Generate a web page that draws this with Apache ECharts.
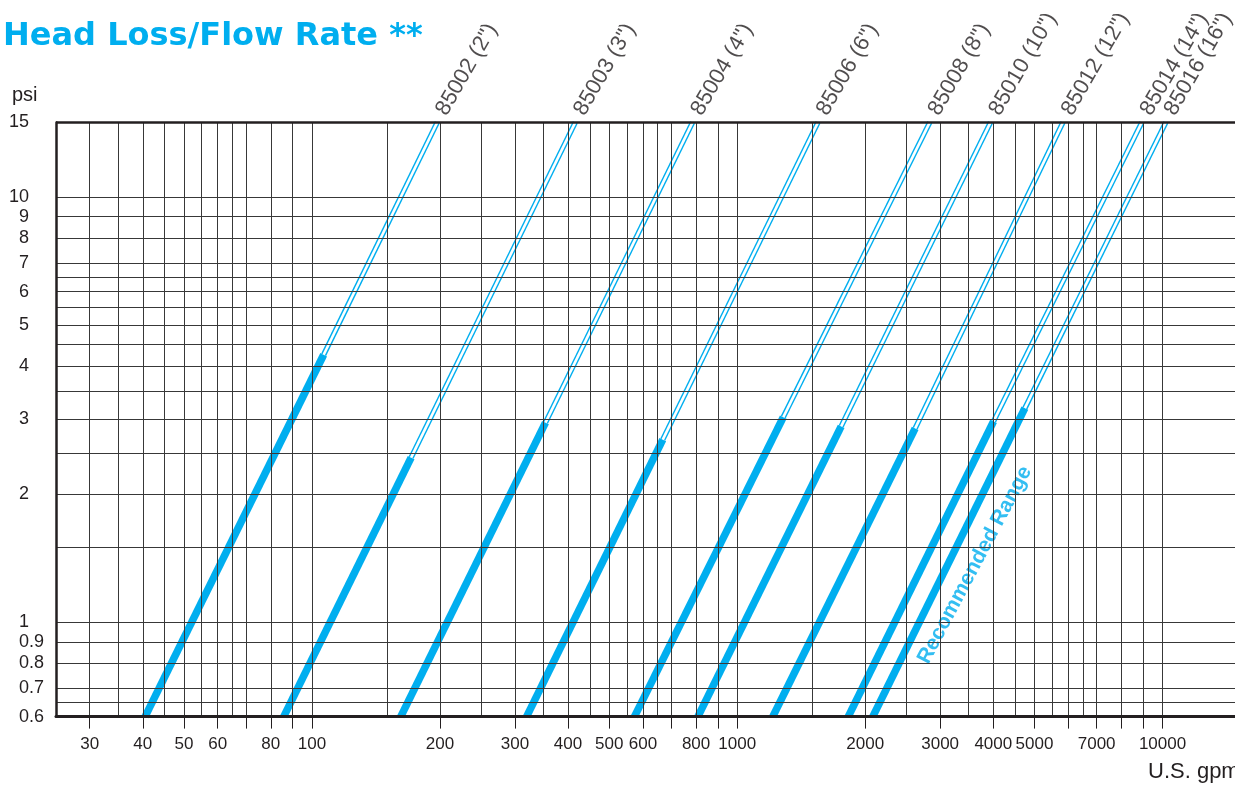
<!DOCTYPE html>
<html><head><meta charset="utf-8">
<script src="https://cdn.jsdelivr.net/npm/echarts@6/dist/echarts.min.js"></script>
<style>html,body{margin:0;padding:0;background:#fff}#c{width:1235px;height:787px}</style>
</head><body><div id="c"></div>
<script>
// ---- data (US gpm vs psi, log-log) ----
const models     = ['85002 (2")','85003 (3")','85004 (4")','85006 (6")','85008 (8")','85010 (10")','85012 (12")','85014 (14")','85016 (16")'];
const flowAtMin  = [40.5, 85.8, 161.7, 319.6, 573.1, 808, 1212, 1824, 2083];   // gpm at 0.6 psi
const flowAtMax  = [197, 416, 785, 1548, 2836, 3940, 5832, 8940, 10180];     // gpm at 15 psi
const recFlow    = [106.5, 171, 354, 668, 1283, 1755, 2620, 4005, 4746];     // end of recommended range (gpm)
const recPsi     = [4.26, 2.44, 2.95, 2.69, 3.04, 2.89, 2.86, 2.97, 3.19];   // end of recommended range (psi)
const psiMin = 0.6, psiMax = 15;
const flowMin = 25, flowMax = 15000;
const xGrid   = [30,35,40,45,50,55,60,65,70,80,90,100,150,200,250,300,350,400,450,500,550,600,650,700,800,900,1000,1500,2000,2500,3000,3500,4000,4500,5000,5500,6000,6500,7000,8000,9000,10000];
const yGrid   = [0.65,0.7,0.8,0.9,1,1.5,2,2.5,3,3.5,4,4.5,5,5.5,6,6.5,7,8,9,10];
const xTicks  = [30,40,50,60,70,80,90,100,200,300,400,500,600,700,800,900,1000,2000,3000,4000,5000,6000,7000,8000,9000,10000];
const xLabels = [30,40,50,60,80,100,200,300,400,500,600,800,1000,2000,3000,4000,5000,7000,10000];
const yLabels = [0.6,0.7,0.8,0.9,1,2,3,4,5,6,7,8,9,10,15];
const yFracLabels = [0.6,0.7,0.8,0.9];
const recText = {label: 'Recommended Range', flow: 3620, psi: 1.364};

const BLUE = '#00aeef', INK = '#231f20';
const FONT = '"Liberation Sans", Arial, sans-serif';
const tickSize = 18;
const xTickSize = 17;

const chart = echarts.init(document.getElementById('c'), null, {renderer: 'canvas'});

const series = [];
series.push({
  type: 'line', data: [], z: 1, silent: true, clip: false,
  markLine: {
    silent: true, symbol: ['none','none'], animation: false,
    label: {show: false},
    lineStyle: {color: '#383838', width: 1, type: 'solid'},
    emphasis: {disabled: true},
    data: xGrid.map(v => ({xAxis: v}))
      .concat(yGrid.map(v => ({yAxis: v})))
      .concat([{yAxis: psiMax, lineStyle: {color: INK, width: 2.5, type: 'solid'}}])
  }
});
series.push({
  type: 'scatter', z: 2, silent: true, clip: false, symbolSize: 0,
  data: [[recText.flow, recText.psi]],
  label: {
    show: true, position: 'inside', formatter: recText.label, rotate: 62,
    color: BLUE, fontWeight: 'bold', fontSize: 21, fontFamily: FONT,
    backgroundColor: '#fff', padding: [0, 2]
  }
});
models.forEach((m, i) => {
  series.push({
    type: 'line', z: 3, silent: true, symbol: 'none', clip: true,
    data: [[flowAtMin[i], psiMin], [recFlow[i], recPsi[i]]],
    lineStyle: {color: BLUE, width: 7.5, cap: 'butt'}
  });
  series.push({
    type: 'line', z: 3, silent: true, symbol: 'none', clip: true,
    data: [[recFlow[i], recPsi[i]], [flowAtMax[i], psiMax]],
    lineStyle: {color: BLUE, width: 5.5, cap: 'butt'}
  });
  series.push({
    type: 'line', z: 4, silent: true, symbol: 'none', clip: true,
    data: [[recFlow[i], recPsi[i]], [flowAtMax[i], psiMax]],
    lineStyle: {color: '#fff', width: 2.6, cap: 'butt'}
  });
  series.push({
    type: 'scatter', z: 5, silent: true, clip: false, symbolSize: 0,
    data: [[flowAtMax[i], psiMax]],
    label: {
      show: true, position: [0, 0], formatter: m, rotate: 60,
      align: 'left', verticalAlign: 'bottom', offset: [9.6, 10.1],
      color: INK, fontSize: 22, fontFamily: FONT
    }
  });
});

const fmtNum = v => String(+Number(v).toPrecision(6));
const intPart = v => { const s = fmtNum(v); const k = s.indexOf('.'); return k < 0 ? s : s.slice(0, k); };
const fracPart = v => { const s = fmtNum(v); const k = s.indexOf('.'); return k < 0 ? '' : s.slice(k); };

const yBase = {
  type: 'log', logBase: 10, min: psiMin, max: psiMax, gridIndex: 0, position: 'left', offset: 0,
  axisTick: {show: false}, splitLine: {show: false}, minorTick: {show: false}, minorSplitLine: {show: false}
};

chart.setOption({
  animation: false,
  backgroundColor: '#fff',
  grid: {left: 56, right: -2.4, top: 122.4, bottom: 70.4, containLabel: false, outerBoundsMode: 'none'},
  xAxis: {
    type: 'log', logBase: 10, min: flowMin, max: flowMax, z: 10,
    axisLine: {show: true, lineStyle: {color: INK, width: 3}},
    axisTick: {show: true, customValues: xTicks, length: 12, inside: false, lineStyle: {color: INK, width: 1}},
    axisLabel: {
      show: true, customValues: xLabels, margin: 19,
      formatter: v => String(Math.round(v)),
      color: INK, fontSize: xTickSize, fontFamily: FONT
    },
    splitLine: {show: false}, minorTick: {show: false}, minorSplitLine: {show: false}
  },
  yAxis: [
    Object.assign({}, yBase, {
      z: 10,
      axisLine: {show: true, lineStyle: {color: INK, width: 2.5}},
      axisLabel: {show: true, customValues: yLabels, margin: 27, align: 'right',
        formatter: intPart, color: INK, fontSize: tickSize, fontFamily: FONT}
    }),
    Object.assign({}, yBase, {
      axisLine: {show: false},
      axisLabel: {show: true, customValues: yFracLabels, margin: 27, align: 'left',
        formatter: fracPart, color: INK, fontSize: tickSize, fontFamily: FONT}
    })
  ],
  graphic: [
    {type: 'text', left: 3, top: 21, style: {text: 'Head Loss/Flow Rate **', fill: BLUE,
      font: 'bold 32px "DejaVu Sans", "Liberation Sans", Arial, sans-serif'}},
    {type: 'text', left: 12, top: 85, style: {text: 'psi', fill: INK, font: '20px ' + FONT}},
    {type: 'text', left: 1148, top: 761, style: {text: 'U.S. gpm', fill: INK, font: '22px ' + FONT}}
  ],
  series: series
});
</script></body></html>
